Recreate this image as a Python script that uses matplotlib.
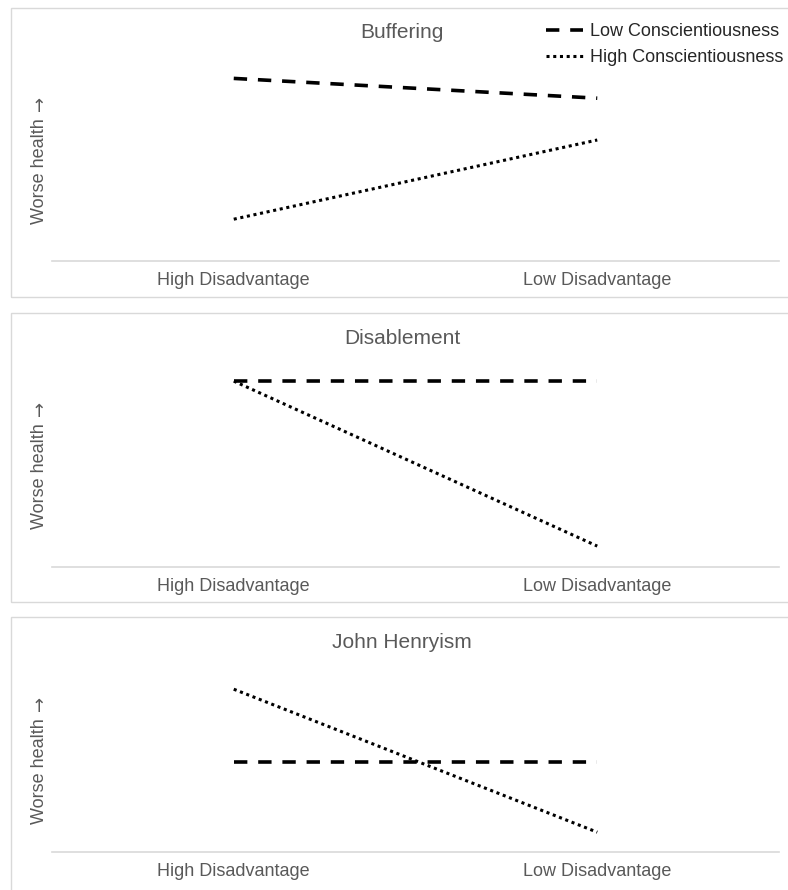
import matplotlib.pyplot as plt
from matplotlib.patches import Rectangle
from matplotlib.lines import Line2D

plt.rcParams['font.family'] = ['Liberation Sans', 'DejaVu Sans']

# data
categories = ['High Disadvantage', 'Low Disadvantage']
series_names = ['Low Conscientiousness', 'High Conscientiousness']
titles = ['Buffering', 'Disablement', 'John Henryism']
low_consc = [[8.3, 7.4], [8.45, 8.45], [4.1, 4.1]]
high_consc = [[1.9, 5.5], [8.45, 0.95], [7.4, 0.9]]
ylabel = 'Worse health'
arrow = '\u2192'

W, H = 788, 890
fig = plt.figure(figsize=(W / 100, H / 100), dpi=100)

GREY_TXT = '#595959'
GREY_LINE = '#d9d9d9'

# panel layout in pixels: box top, box bottom, axes top, axes baseline, ylabel centre
panels = [(8, 297, 41, 261, 160),
          (313, 602, 347, 567, 465),
          (617, 905, 632, 852, 760)]

dash_style = (0, (3.7, 3.0))
dot_style = (0, (1, 1.2))

for i, (btop, bbot, atop, abase, ylc) in enumerate(panels):
    # light grey panel frame
    fig.patches.append(Rectangle((11 / W, 1 - bbot / H), 800 / W, (bbot - btop) / H,
                                 transform=fig.transFigure, fill=False,
                                 edgecolor=GREY_LINE, lw=1.0))
    ax = fig.add_axes([52 / W, 1 - abase / H, (779 - 52) / W, (abase - atop) / H])
    ax.set_xlim(-0.5, 1.5)
    ax.set_ylim(0, 10)
    ax.plot([0, 1], low_consc[i], color='black', lw=2.6, linestyle=dash_style,
            dash_capstyle='butt')
    ax.plot([0, 1], high_consc[i], color='black', lw=2.2, linestyle=dot_style)
    for s in ['top', 'left', 'right']:
        ax.spines[s].set_visible(False)
    ax.spines['bottom'].set_color(GREY_LINE)
    ax.spines['bottom'].set_linewidth(1.2)
    ax.set_yticks([])
    ax.set_xticks([0, 1])
    ax.set_xticklabels(categories, fontsize=13, color=GREY_TXT)
    ax.tick_params(axis='x', length=0, pad=8)
    ax.patch.set_alpha(0)

    fig.text(402 / W, 1 - (btop + 25) / H, titles[i], fontsize=15,
             color=GREY_TXT, ha='center', va='center')
    # y label: words in Liberation, long arrow from DejaVu
    fig.text(40 / W, 1 - (ylc + 11) / H, ylabel, fontsize=13, color=GREY_TXT,
             rotation=90, ha='center', va='center')
    fig.text(40 / W, 1 - (ylc - 57) / H, arrow, fontsize=13, color=GREY_TXT,
             rotation=90, ha='center', va='center', family='DejaVu Sans')

handles = [Line2D([], [], color='black', lw=2.6, linestyle=dash_style),
           Line2D([], [], color='black', lw=2.2, linestyle=dot_style)]
fig.legend(handles, series_names, loc='upper left',
           bbox_to_anchor=(546 / W, 1 - 23 / H), frameon=False, fontsize=13,
           handlelength=2.05, handletextpad=0.4, labelspacing=0.52,
           borderpad=0, borderaxespad=0, labelcolor='#262626')

fig.savefig('out.png', dpi=100)
